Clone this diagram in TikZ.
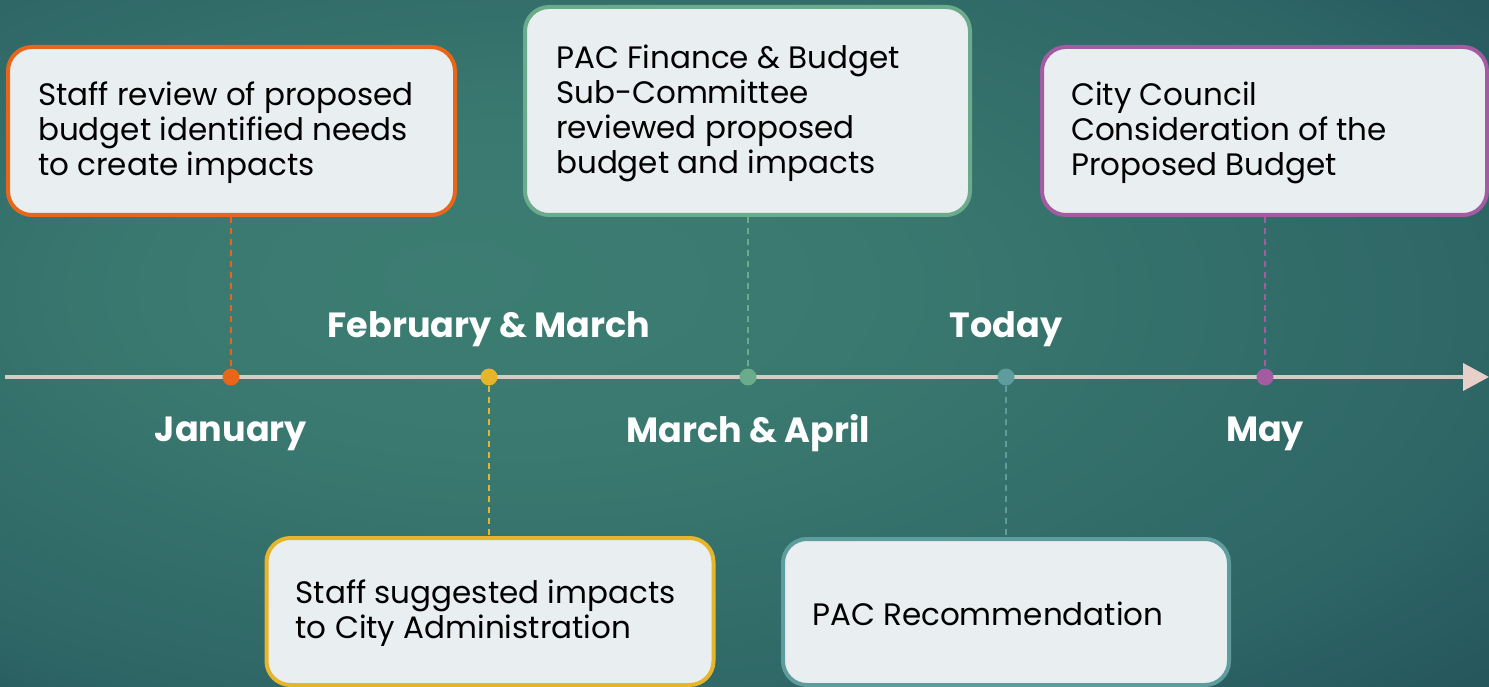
\documentclass[tikz,border=0pt]{standalone}
\usepackage{fontspec}
\setmainfont{Poppins}
\usetikzlibrary{arrows.meta,calc}
\definecolor{bgin}{HTML}{3C7D72}
\definecolor{bgout}{HTML}{1E4B57}
\definecolor{boxfill}{HTML}{E9EEF1}
\definecolor{cOrange}{HTML}{E8661A}
\definecolor{cYellow}{HTML}{E6B52B}
\definecolor{cGreen}{HTML}{6BAA8A}
\definecolor{cTeal}{HTML}{5E9C9E}
\definecolor{cPurple}{HTML}{A35BA2}
\definecolor{axis}{HTML}{D6CCC6}
\definecolor{axishead}{HTML}{E9CFCA}
\pgfdeclareradialshading{bgshade}{\pgfpoint{-10bp}{5bp}}{%
  color(0bp)=(bgin); color(12bp)=(bgin!92!bgout); color(30bp)=(bgin!55!bgout); color(45bp)=(bgout); color(60bp)=(bgout!85!black)}
\tikzset{
  evbox/.style={draw=#1, line width=4pt, fill=boxfill, rounded corners=24pt, inner sep=0pt},
  evtext/.style={anchor=west, align=left, font=\fontsize{31}{35}\selectfont, text=black, inner sep=0pt},
  month/.style={font=\fontsize{35}{40}\selectfont\bfseries, text=white, inner sep=0pt},
  tick/.style={circle, fill=#1, minimum size=17pt, inner sep=0pt},
  guide/.style={draw=#1, line width=1.6pt, dash pattern=on 6pt off 5pt}
}
\begin{document}
\begin{tikzpicture}[x=1pt,y=-1pt]
\useasboundingbox (0,0) rectangle (1489,687);
\shade[shading=bgshade] (0,0) rectangle (1489,687);
% timeline
\coordinate (t0) at (5,377);
\coordinate (t1) at (1489,377);
\draw[axis, line width=4pt, -{Triangle[length=26pt,width=27pt,fill=axishead,color=axishead]}] (t0) -- (t1);
% boxes
\node[evbox=cOrange, minimum width=447pt, minimum height=168pt] (b1) at (231.5,131) {};
\node[evbox=cGreen, minimum width=445pt, minimum height=208pt] (b2) at (747.5,111) {};
\node[evbox=cPurple, minimum width=445pt, minimum height=168pt] (b3) at (1264.5,131) {};
\node[evbox=cYellow, minimum width=447pt, minimum height=147pt] (b4) at (490,611.5) {};
\node[evbox=cTeal, minimum width=446pt, minimum height=146pt] (b5) at (1006,612) {};
\node[evtext] (x1) at ($(b1.west)+(32,2)$) {Staff review of proposed\\budget identified needs\\to create impacts};
\node[evtext] (x2) at ($(b2.west)+(33,2)$) {PAC Finance \& Budget\\Sub-Committee\\reviewed proposed\\budget and impacts};
\node[evtext] (x3) at ($(b3.west)+(31,2)$) {City Council\\Consideration of the\\Proposed Budget};
\node[evtext] (x4) at ($(b4.west)+(31,2)$) {Staff suggested impacts\\to City Administration};
\node[evtext] (x5) at ($(b5.west)+(31,2)$) {PAC Recommendation};
% ticks
\node[tick=cOrange] (d1) at (231,377) {};
\node[tick=cYellow] (d2) at (489,377) {};
\node[tick=cGreen] (d3) at (748,377) {};
\node[tick=cTeal] (d4) at (1006,377) {};
\node[tick=cPurple] (d5) at (1265,377) {};
% guides
\draw[guide=cOrange] (b1.south -| d1) -- (d1.north);
\draw[guide=cYellow] (d2.south) -- (b4.north -| d2);
\draw[guide=cGreen] (b2.south -| d3) -- (d3.north);
\draw[guide=cTeal] (d4.south) -- (b5.north -| d4);
\draw[guide=cPurple] (b3.south -| d5) -- (d5.north);
% month labels
\node[month] (m1) at (231,434) {January};
\node[month] (m2) at (489,329) {February \& March};
\node[month] (m3) at (748,433) {March \& April};
\node[month] (m4) at (1006,329) {Today};
\node[month] (m5) at (1265,434) {May};
\end{tikzpicture}
\end{document}
